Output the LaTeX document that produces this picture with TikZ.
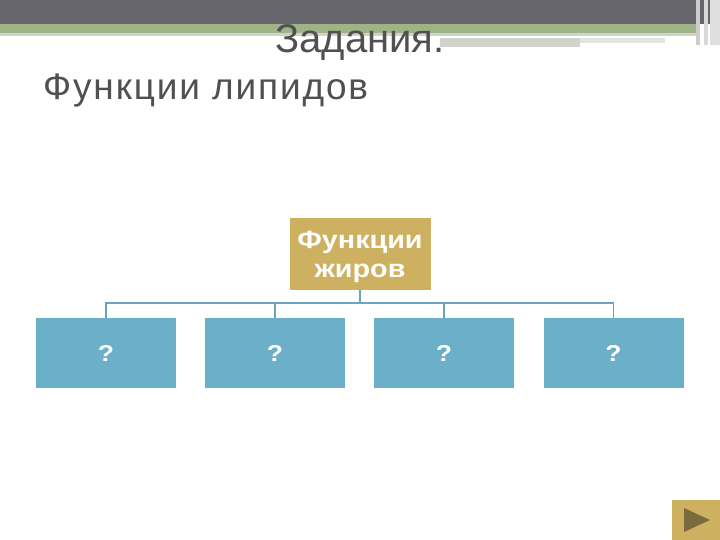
\documentclass[tikz,border=0pt]{standalone}
\usepackage{fontspec}
\setmainfont{Liberation Sans}
\newfontfamily\spacedfont[LetterSpace=5]{Liberation Sans}
\newfontfamily\widefont[FakeStretch=1.15]{Liberation Sans}
\definecolor{bandgray}{HTML}{67666C}
\definecolor{bandgreen}{HTML}{9EB386}
\definecolor{lightline}{HTML}{CFD3CB}
\definecolor{goldbox}{HTML}{CDB160}
\definecolor{bluebox}{HTML}{6CAFC8}
\definecolor{linkcol}{HTML}{6AA5BB}
\definecolor{titlecol}{HTML}{505050}
\definecolor{playtri}{HTML}{7A6A3E}
\tikzset{
  child/.style={fill=bluebox, minimum width=140pt, minimum height=70pt, inner sep=0pt, text=white, font=\widefont\bfseries\fontsize{23}{24}\selectfont},
  root/.style={fill=goldbox, minimum width=141pt, minimum height=72pt, inner sep=0pt, text=white, align=center, text depth=-2pt, font=\widefont\bfseries\fontsize{25}{29}\selectfont},
  link/.style={draw=linkcol, line width=1.5pt}
}
\begin{document}
\begin{tikzpicture}[x=1pt,y=-1pt]
\useasboundingbox (0,0) rectangle (720,540);
\fill[white] (0,0) rectangle (720,540);
% header bands
\fill[bandgray] (0,0) rectangle (720,24);
\fill[bandgreen] (0,24) rectangle (700,33);
\fill[lightline] (0,33) rectangle (700,36);
\fill[lightline] (440,38) rectangle (580,47);
\fill[lightline!60] (580,38) rectangle (665,43);
\fill[gray!40] (696,0) rectangle (700,45);
\fill[gray!30] (704,0) rectangle (708,45);
\fill[gray!25] (710,0) rectangle (720,45);
% titles
\node[anchor=base, text=titlecol, font=\fontsize{40}{40}\selectfont, inner sep=0pt] (t1) at (360,53) {Задания.};
\node[anchor=base west, text=titlecol, font=\spacedfont\fontsize{37}{37}\selectfont, inner sep=0pt] (t2) at (43,100) {Функции липидов};
% org chart
\node[root] (r) at (360,254) {Функции\\жиров};
\node[child] (c1) at (106,353) {?};
\node[child] (c2) at (275,353) {?};
\node[child] (c3) at (444,353) {?};
\node[child] (c4) at (613.5,353) {?};
\coordinate (bar) at (360,303);
\draw[link] (r.south) -- (bar);
\foreach \c in {c1,c2,c3,c4}{
  \draw[link] (bar) -| (\c.north);
}
% play button
\node[fill=goldbox, minimum width=48pt, minimum height=40pt, inner sep=0pt] (play) at (696,520) {};
\fill[playtri] ([xshift=-12pt,yshift=12pt]play.center) -- ([xshift=-12pt,yshift=-12pt]play.center) -- ([xshift=14pt]play.center) -- cycle;
\end{tikzpicture}
\end{document}
